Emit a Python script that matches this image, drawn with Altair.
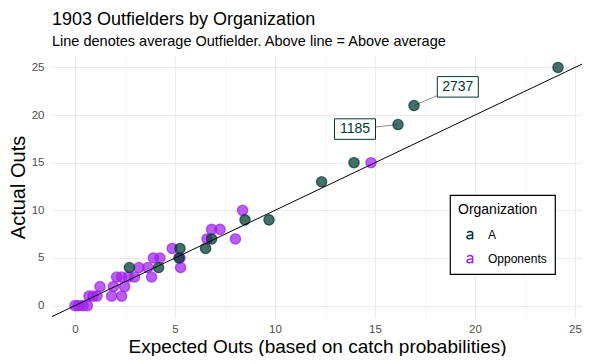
import altair as alt
import pandas as pd

FONT = "Liberation Sans"

# Team A outfielders (expected outs, actual outs)
a_x = [24.15, 16.95, 16.15, 13.95, 12.33, 9.7, 8.5, 6.83, 6.53, 5.25, 5.2, 4.18, 2.72]
a_y = [25, 21, 19, 15, 13, 9, 9, 7, 6, 6, 5, 4, 4]

# Opponents outfielders
opp_x = [0.0, 0.17, 0.4, 0.62,
         0.7, 0.9, 1.1, 1.83, 2.33,
         1.25, 1.92, 2.48,
         2.08, 2.33, 2.67, 2.98, 3.83,
         3.2, 3.64, 5.28,
         3.92, 4.25, 5.25,
         4.86,
         6.6, 8.02,
         6.83, 7.25,
         8.38,
         14.8]
opp_y = [0, 0, 0, 0,
         1, 1, 1, 1, 1,
         2, 2, 2,
         3, 3, 3, 3, 3,
         4, 4, 4,
         5, 5, 5,
         6,
         7, 7,
         8, 8,
         10,
         15]

# Repelled labels: text, point position and label-box position
label_text = ["2737", "1185"]
label_px = [16.95, 16.15]
label_py = [21, 19]
label_bx = [19.14, 14.0]
label_by = [22.96, 18.53]

org_names = ["A", "Opponents"]
org_colors = ["#003831", "#A020F0"]

x_domain = [-1.15, 25.35]
y_domain = [-1.3, 26.2]

pts = pd.DataFrame({
    "exp": opp_x + a_x,
    "act": opp_y + a_y,
    "Organization": [org_names[1]] * len(opp_x) + [org_names[0]] * len(a_x),
})
labels = pd.DataFrame({"text": label_text, "px": label_px, "py": label_py,
                       "bx": label_bx, "by": label_by})
abline = pd.DataFrame({"x": x_domain, "y": x_domain})

xs = alt.Scale(domain=x_domain, nice=False, zero=False)
ys = alt.Scale(domain=y_domain, nice=False, zero=False)
grid_vals = [i * 2.5 for i in range(11)]
grid_w = {"condition": {"test": "datum.value % 5 === 0", "value": 1.1}, "value": 0.55}
lab_expr = "datum.value % 5 === 0 ? datum.label : ''"

x_axis = alt.Axis(values=grid_vals, labelExpr=lab_expr, ticks=False, domain=False,
                  gridColor="#EBEBEB", gridWidth=grid_w, labelColor="#4D4D4D",
                  labelFont=FONT, labelFontSize=11.5, labelPadding=5,
                  title="Expected Outs (based on catch probabilities)",
                  titleFont=FONT, titleFontSize=19, titleFontWeight="normal",
                  titleColor="black", titlePadding=3)
y_axis = alt.Axis(values=grid_vals, labelExpr=lab_expr, ticks=False, domain=False,
                  gridColor="#EBEBEB", gridWidth=grid_w, labelColor="#4D4D4D",
                  labelFont=FONT, labelFontSize=11.5, labelPadding=8,
                  title="Actual Outs",
                  titleFont=FONT, titleFontSize=20, titleFontWeight="normal",
                  titleColor="black", titlePadding=3)

# lowercase "a" glyph used as legend key (as in the reference's text legend)
A_GLYPH = ("M-0.62,-0.5 C-0.52,-1.02 0.66,-1.02 0.66,-0.35 L0.66,0.66 "
           "C0.66,0.86 0.7,0.95 0.78,1 "
           "M0.66,-0.06 C0.2,0.04 -0.76,0 -0.76,0.5 "
           "C-0.76,1.1 0.36,1.06 0.66,0.55")

segments = alt.Chart(labels).mark_rule(color="#808080", strokeWidth=0.9).encode(
    x=alt.X("bx:Q", scale=xs, axis=x_axis),
    y=alt.Y("by:Q", scale=ys, axis=y_axis),
    x2="px:Q", y2="py:Q",
)

points = alt.Chart(pts).mark_point(
    filled=True, size=105, fillOpacity=0.72, strokeOpacity=0.72, strokeWidth=1.3
).encode(
    x=alt.X("exp:Q", scale=xs, axis=x_axis),
    y=alt.Y("act:Q", scale=ys, axis=y_axis),
    fill=alt.Fill("Organization:N", scale=alt.Scale(range=org_colors), legend=None),
    stroke=alt.Stroke("Organization:N",
                      scale=alt.Scale(domain=org_names, range=org_colors),
                      legend=alt.Legend(
        orient="none", legendX=398, legendY=139, title="Organization",
        strokeColor="black", fillColor="white", padding=8,
        titleFont=FONT, titleFontSize=14, titleFontWeight="normal", titleColor="black",
        labelFont=FONT, labelFontSize=12, labelColor="black",
        symbolType=A_GLYPH, symbolSize=64, symbolOpacity=1,
        symbolFillColor="transparent", symbolStrokeWidth=1.5,
        rowPadding=10, titlePadding=12, labelOffset=12, symbolOffset=6,
    )),
)

line = alt.Chart(abline).mark_line(color="black", strokeWidth=1, clip=True).encode(
    x=alt.X("x:Q", scale=xs), y=alt.Y("y:Q", scale=ys)
)

boxes = alt.Chart(labels).mark_point(
    shape="M-1,-0.5H1V0.5H-1Z", size=1681, filled=True, fill="white",
    stroke="#003831", strokeWidth=1, opacity=1
).encode(x=alt.X("bx:Q", scale=xs), y=alt.Y("by:Q", scale=ys))

texts = alt.Chart(labels).mark_text(
    font=FONT, fontSize=14, color="#003831", align="center", baseline="middle"
).encode(x=alt.X("bx:Q", scale=xs), y=alt.Y("by:Q", scale=ys), text="text:N")

chart = alt.layer(segments, points, line, boxes, texts).properties(
    width=530, height=262,
    autosize=alt.AutoSizeParams(type="none"),
    padding={"left": 44, "top": 48, "right": 0, "bottom": 38},
    title=alt.TitleParams(
        text="1903 Outfielders by Organization",
        subtitle="Line denotes average Outfielder. Above line = Above average",
        anchor="start", frame="group", font=FONT, fontSize=18, fontWeight="normal",
        color="black", subtitleFont=FONT, subtitleFontSize=14.5, subtitleColor="black",
        offset=8, subtitlePadding=6,
    ),
).configure_view(stroke=None).configure_legend(strokeWidth=1.2)

chart.save("out.html", embed_options={"renderer": "svg", "actions": False})
